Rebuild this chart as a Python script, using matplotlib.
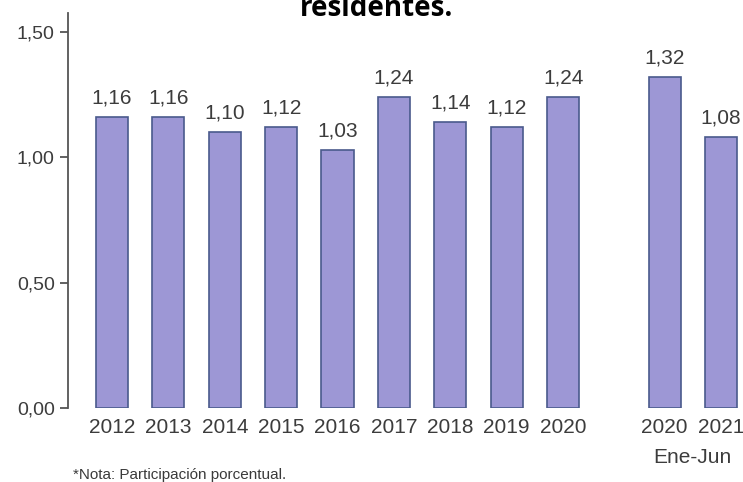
import matplotlib
matplotlib.use("Agg")
import matplotlib.pyplot as plt
import numpy as np

# Annual series and the January-June comparison
years = ["2012", "2013", "2014", "2015", "2016", "2017", "2018", "2019", "2020"]
annual_values = [1.16, 1.16, 1.10, 1.12, 1.03, 1.24, 1.14, 1.12, 1.24]
semester_years = ["2020", "2021"]
semester_values = [1.32, 1.08]
semester_label = "Ene-Jun"

y_ticks = [0.0, 0.5, 1.0, 1.5]
y_tick_labels = ["0,00", "0,50", "1,00", "1,50"]

title_text = "residentes."
note_text = "*Nota: Participación porcentual."

plt.rcParams["font.family"] = ["Liberation Sans", "DejaVu Sans"]

W, H = 743, 482
fig = plt.figure(figsize=(W / 100, H / 100), dpi=100)
ax = fig.add_axes([68 / W, (H - 408) / H, 1 - 68 / W, (408 - 13) / H])

bar_color = "#9d97d5"
edge_color = "#4a5a8c"
text_color = "#3c3c3c"

x_annual = np.arange(len(years), dtype=float)
x_semester = len(years) - 1 + 1.8 + np.arange(len(semester_years), dtype=float)
x_all = np.concatenate([x_annual, x_semester])
vals_all = annual_values + semester_values
labels_all = years + semester_years

ax.bar(x_all, vals_all, width=0.57, color=bar_color, edgecolor=edge_color, linewidth=1.2)

for x, v in zip(x_all, vals_all):
    ax.annotate(f"{v:.2f}".replace(".", ","), (x, v), xytext=(0, 6.5),
                textcoords="offset points", ha="center", va="bottom",
                fontsize=15, color=text_color)

ax.set_xlim(-0.78, 11.19)
ax.set_ylim(0, 1.574)
ax.set_xticks(x_all)
ax.set_xticklabels(labels_all, fontsize=15, color=text_color)
ax.set_yticks(y_ticks)
ax.set_yticklabels(y_tick_labels, fontsize=14, color=text_color)
ax.tick_params(axis="x", length=0, pad=7)
ax.tick_params(axis="y", length=6, width=1.3, color="#555555", pad=3.5)

for side in ["top", "right", "bottom"]:
    ax.spines[side].set_visible(False)
ax.spines["left"].set_color("#555555")
ax.spines["left"].set_linewidth(1.3)

ax.text(x_semester.mean(), -0.197, semester_label, ha="center", va="center",
        fontsize=15, color=text_color, transform=ax.transData, clip_on=False)

fig.text(377 / W, 1 - 16 / H, title_text, ha="center", va="baseline",
         fontsize=20, fontweight="bold", color="black", family=["Open Sans", "DejaVu Sans"])

fig.text(73 / W, 1 - 475 / H, note_text, ha="left", va="center",
         fontsize=11, color="#3a3a3a")

fig.savefig("out.png", dpi=100)
